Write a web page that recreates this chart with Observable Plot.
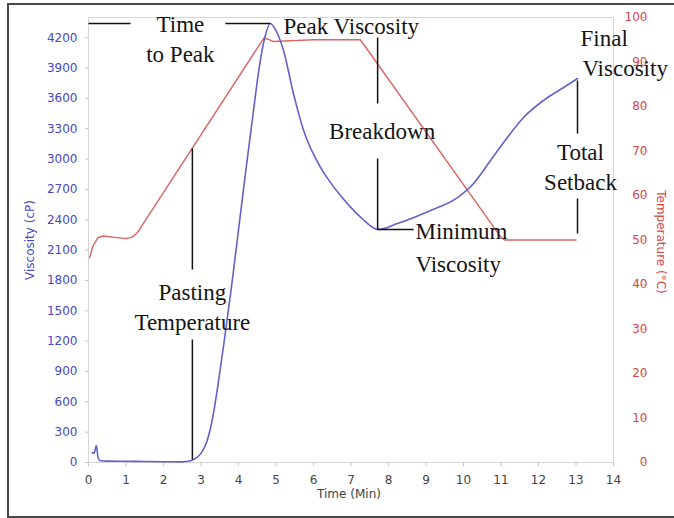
<!DOCTYPE html>
<html>
<head>
<meta charset="utf-8">
<script src="https://cdn.jsdelivr.net/npm/d3@7"></script>
<script src="https://cdn.jsdelivr.net/npm/@observablehq/plot@0.6"></script>
<style>
  body { margin: 0; background: #fff; }
  #wrap { position: relative; width: 674px; height: 518px; overflow: hidden; background: #fff; }
  #wrap svg { position: absolute; left: 0; top: 0; }
  #border { position: absolute; left: 7px; top: 3px; width: 720px; height: 511px;
            border: 2px solid #4a4a4a; border-right: none; pointer-events: none; }
</style>
</head>
<body>
<div id="wrap"><div id="border"></div></div>
<script>
// ---- Viscosity curve (cP) vs time (min) ----
const viscTime  = [0.10, 0.15, 0.21, 0.25, 0.30, 0.50, 1.00, 1.50, 2.00, 2.50, 2.70, 2.80, 3.00, 3.15, 3.30, 3.45, 3.60, 3.80, 4.00, 4.20, 4.40, 4.55, 4.70, 4.85, 4.97, 5.20, 5.47, 5.73, 6.20, 6.45, 6.72, 7.00, 7.33, 7.60, 7.71, 8.24, 9.12, 9.84, 10.27, 10.72, 11.17, 11.60, 12.13, 12.67, 13.04];
const viscValue = [99, 90, 168, 60, 20, 14, 12, 10, 8, 6, 14, 30, 90, 200, 420, 760, 1150, 1700, 2300, 2900, 3480, 3900, 4200, 4340, 4290, 4074, 3640, 3290, 2910, 2770, 2640, 2520, 2400, 2320, 2304, 2363, 2492, 2620, 2759, 2986, 3213, 3411, 3579, 3708, 3797];

// ---- Temperature curve (°C) vs time (min) ----
const tempTime  = [0.03, 0.12, 0.25, 0.40, 0.70, 1.00, 1.15, 1.30, 4.67, 4.80, 4.93, 6.00, 7.25, 11.00, 11.10, 13.00];
const tempValue = [46.0, 48.7, 50.5, 50.9, 50.6, 50.3, 50.6, 51.6, 95.3, 95.1, 94.6, 95.0, 95.0, 50.6, 50.0, 50.0];

// ---- Tick labels ----
const xTicks    = d3.range(0, 15, 1);
const viscTicks = d3.range(0, 4201, 300);
const tempTicks = d3.range(0, 101, 10);

// ---- Axis titles ----
const viscLabel = "Viscosity (cP)";
const tempLabel = "Temperature (°C)";
const timeLabel = "Time (Min)";

// ---- Annotation texts (anchored in data space: time, viscosity) ----
const noteText   = ["Time", "to Peak", "Peak Viscosity", "Breakdown", "Minimum", "Viscosity", "Final", "Viscosity", "Total", "Setback", "Pasting", "Temperature"];
const noteTime   = [2.45, 2.45, 5.20, 7.83, 8.72, 8.72, 13.12, 13.17, 13.12, 13.12, 2.77, 2.77];
const noteVisc   = [4331, 4034, 4311, 3273, 2284, 1958, 4192, 3896, 3065, 2768, 1681, 1384];
const noteAnchor = ["middle", "middle", "start", "middle", "start", "start", "start", "start", "middle", "middle", "middle", "middle"];

// ---- Annotation leader lines (data space) ----
const segT1 = [0.00, 3.65, 2.77, 2.77, 7.71, 7.71, 7.71, 13.04, 13.04];
const segV1 = [4341, 4341, 3105, 1216, 4202, 3006, 2304, 3777, 2610];
const segT2 = [1.12, 4.85, 2.77, 2.77, 7.71, 7.71, 8.67, 13.04, 13.04];
const segV2 = [4341, 4341, 1908, 30, 3550, 2304, 2304, 3253, 2264];

// degrees °C -> cP units on the shared y scale (100 °C == 4400 cP)
const K = 44;

const viscData = viscTime.map((t, i) => ({t, v: viscValue[i]}));
const tempData = tempTime.map((t, i) => ({t, c: tempValue[i] * K}));
const notes = noteText.map((s, i) => ({s, t: noteTime[i], v: noteVisc[i], a: noteAnchor[i]}));
const segs = segT1.map((t1, i) => ({t1, v1: segV1[i], t2: segT2[i], v2: segV2[i]}));

const serif = "'Liberation Serif', 'Times New Roman', serif";
const blue = "#6262cc";
const red = "#dc6464";
const noteOpts = {x: "t", y: "v", text: "s", fill: "#141414", fontSize: 23, fontFamily: serif};

const chart = Plot.plot({
  width: 674,
  height: 518,
  marginLeft: 88,
  marginRight: 61,
  marginTop: 17,
  marginBottom: 56,
  x: {domain: [0, 14]},
  y: {domain: [0, 4400]},
  style: {background: "transparent", fontFamily: "'DejaVu Sans', Verdana, sans-serif", fontSize: "12px"},
  marks: [
    Plot.frame({stroke: "#d6d6d6"}),
    Plot.axisX(xTicks, {tickSize: 4, tickPadding: 9, stroke: "#c4c4c4", fill: "#444", label: null, tickFormat: d3.format("d")}),
    Plot.axisY(viscTicks, {anchor: "left", tickSize: 3, tickPadding: 8, stroke: "#c4c4c4", fill: "#4848c4", label: null, tickFormat: d3.format("d")}),
    Plot.axisY(tempTicks.map(d => d * K), {anchor: "right", tickSize: 3, tickPadding: 3, textAnchor: "end", dx: 28,
      tickFormat: d => String(Math.round(d / K)), stroke: "#c4c4c4", fill: "#d44848", label: null}),
    Plot.text([viscLabel], {text: d => d, frameAnchor: "left", dx: -58, rotate: -90, textAnchor: "middle", lineAnchor: "middle", fill: "#4848c4", fontSize: 12}),
    Plot.text([tempLabel], {text: d => d, frameAnchor: "right", dx: 47, dy: 2, rotate: 90, textAnchor: "middle", lineAnchor: "middle", fill: "#d44848", fontSize: 12}),
    Plot.text([timeLabel], {text: d => d, frameAnchor: "bottom", dy: 32, dx: -2, textAnchor: "middle", lineAnchor: "middle", fill: "#444", fontSize: 12}),
    Plot.line(tempData, {x: "t", y: "c", stroke: red, strokeWidth: 1.4}),
    Plot.line(viscData, {x: "t", y: "v", stroke: blue, strokeWidth: 1.6, curve: "monotone-x"}),
    Plot.link(segs, {x1: "t1", y1: "v1", x2: "t2", y2: "v2", stroke: "#111", strokeWidth: 1.5}),
    Plot.text(notes.filter(d => d.a === "middle"), {...noteOpts, textAnchor: "middle"}),
    Plot.text(notes.filter(d => d.a === "start"), {...noteOpts, textAnchor: "start"})
  ]
});
document.getElementById("wrap").prepend(chart);
</script>
</body>
</html>
